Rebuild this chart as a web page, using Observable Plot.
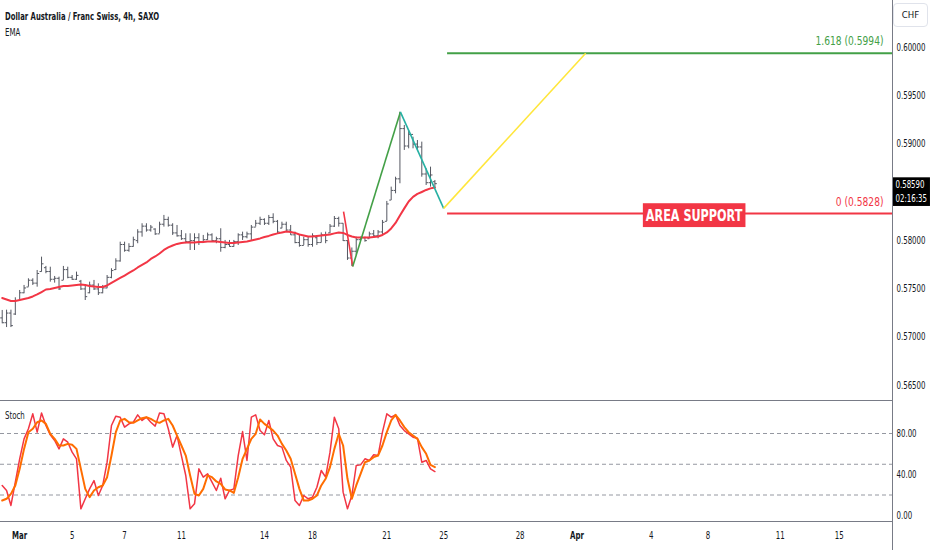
<!DOCTYPE html>
<html>
<head>
<meta charset="utf-8">
<script src="https://cdn.jsdelivr.net/npm/d3@7"></script>
<script src="https://cdn.jsdelivr.net/npm/@observablehq/plot@0.6"></script>
<style>
  html,body{margin:0;padding:0;background:#fff;}
  #chart{position:relative;width:932px;height:550px;overflow:hidden;background:#fff;
    font-family:"DejaVu Sans Condensed","DejaVu Sans",sans-serif;color:#131722;}
  #chart svg{position:absolute;left:0;}
  .legend{position:absolute;left:5px;font-size:10px;line-height:1;white-space:nowrap;z-index:2;
    transform:scaleX(0.78);transform-origin:0 0;}
  #title{top:12px;font-weight:bold;font-size:9.8px;}
  #ema{top:28px;}
  #stochLabel{top:411px;}
  #ccy{position:absolute;left:893px;top:3px;width:35px;height:24px;border:1px solid #e0e3eb;border-radius:4px;
    box-sizing:border-box;font-size:9.5px;text-align:center;line-height:22px;color:#131722;z-index:2;background:#fff;}
</style>
</head>
<body>
<div id="chart">
  <div id="title" class="legend">Dollar Australia / Franc Swiss, 4h, SAXO</div>
  <div id="ema" class="legend">EMA</div>
  <div id="stochLabel" class="legend">Stoch</div>
  <div id="ccy">CHF</div>
</div>
<script>
// ---------- data (4h bars, index 0 = Mar 1) ----------
const startIndex = -4;
const barOpen = [0.5720,0.5715,0.5725,0.5724,0.5738,0.5746,0.5752,0.5759,0.5756,0.5768,
0.5772,0.5768,0.5760,0.5761,0.5759,0.5770,0.5762,0.5760,0.5758,0.5750,
0.5746,0.5754,0.5750,0.5746,0.5751,0.5762,0.5770,0.5779,0.5796,0.5790,
0.5794,0.5800,0.5809,0.5815,0.5811,0.5812,0.5807,0.5817,0.5822,0.5816,
0.5808,0.5805,0.5802,0.5799,0.5800,0.5803,0.5798,0.5801,0.5806,0.5800,
0.5802,0.5793,0.5796,0.5794,0.5799,0.5806,0.5804,0.5807,0.5814,0.5818,
0.5822,0.5818,0.5824,0.5820,0.5813,0.5817,0.5811,0.5806,0.5798,0.5795,
0.5801,0.5796,0.5803,0.5798,0.5806,0.5808,0.5815,0.5823,0.5818,0.5800,
0.5782,0.5789,0.5801,0.5803,0.5802,0.5807,0.5805,0.5809,0.5820,0.5842,
0.5852,0.5864,0.5916,0.5898,0.5910,0.5900,0.5897,0.5869,0.5860,0.5861];
const barHigh = [0.57277,0.5728,0.5728,0.57408,0.57484,0.57536,0.57605,0.57605,0.57691,0.57829,
0.57733,0.57725,0.57629,0.57622,0.57733,0.57725,0.57639,0.57674,0.57588,0.57536,
0.5757,0.57588,0.57553,0.57536,0.57639,0.57709,0.57812,0.57984,0.57984,0.57968,
0.58036,0.58113,0.58175,0.58175,0.58157,0.58123,0.58191,0.58261,0.58243,0.58175,
0.58157,0.58105,0.58071,0.58071,0.58071,0.58071,0.58054,0.58078,0.58071,0.58036,
0.58123,0.58002,0.58002,0.58002,0.58071,0.58088,0.58088,0.58157,0.58209,0.58243,
0.58226,0.58261,0.58278,0.58209,0.58191,0.58191,0.58157,0.58088,0.58054,0.58036,
0.58036,0.58071,0.58036,0.5808,0.58088,0.58167,0.5825,0.58243,0.58175,0.58002,
0.57924,0.58036,0.58036,0.58036,0.58088,0.58105,0.58105,0.58209,0.58406,0.58554,
0.58657,0.5933,0.59193,0.59141,0.59071,0.59037,0.5902,0.58744,0.58761,0.58623];
const barLow = [0.57139,0.5710,0.5710,0.57225,0.5738,0.5745,0.57518,0.57536,0.57518,0.57674,
0.57657,0.5757,0.5756,0.57484,0.57588,0.57605,0.57588,0.57588,0.57484,0.5738,
0.5745,0.57484,0.57432,0.5745,0.57502,0.57605,0.57691,0.57777,0.5788,0.5788,
0.57932,0.57968,0.58036,0.58088,0.58088,0.58054,0.58071,0.5814,0.5814,0.58054,
0.58036,0.58002,0.57968,0.57898,0.57898,0.5795,0.57984,0.58002,0.57984,0.57968,
0.5788,0.57916,0.57932,0.57932,0.5795,0.58002,0.58019,0.58002,0.5814,0.58157,
0.58157,0.58157,0.58175,0.58071,0.58123,0.58088,0.58054,0.57968,0.57932,0.5795,
0.57932,0.57932,0.5795,0.57976,0.57968,0.58074,0.58136,0.5814,0.57991,0.57795,
0.57733,0.57847,0.58002,0.57984,0.58019,0.58036,0.58019,0.58054,0.58198,0.58416,
0.58485,0.58589,0.58934,0.58951,0.58951,0.58934,0.58657,0.58571,0.58554,0.58537];
const barClose = [0.5715,0.5725,0.5712,0.5738,0.5746,0.5751,0.5759,0.5756,0.5766,0.5776,
0.5768,0.5760,0.5761,0.5750,0.5770,0.5762,0.5760,0.5764,0.5750,0.5742,
0.5754,0.5750,0.5746,0.5751,0.5762,0.5769,0.5779,0.5796,0.5790,0.5794,
0.5801,0.5809,0.5815,0.5811,0.5814,0.5807,0.5817,0.5822,0.5816,0.5808,
0.5805,0.5802,0.5799,0.5800,0.5803,0.5798,0.5801,0.5806,0.5800,0.5802,
0.5793,0.5796,0.5794,0.5799,0.5806,0.5804,0.5807,0.5814,0.5818,0.5822,
0.5818,0.5824,0.5820,0.5809,0.5817,0.5811,0.5806,0.5798,0.5795,0.5801,
0.5796,0.5805,0.5798,0.5806,0.5800,0.5815,0.5823,0.5818,0.5800,0.5782,
0.5789,0.5801,0.5803,0.5800,0.5807,0.5805,0.5809,0.5819,0.5838,0.5852,
0.5864,0.5916,0.5898,0.5910,0.5900,0.5897,0.5869,0.5860,0.5868,0.5859];
const emaLine = [0.57406,0.57391,0.57375,0.57375,0.57386,0.57396,0.57406,0.57422,0.57443,0.57468,
0.57494,0.57499,0.5751,0.5752,0.57531,0.57531,0.57536,0.57541,0.57546,0.57541,
0.57531,0.57525,0.5752,0.5752,0.57536,0.57562,0.57588,0.57614,0.57639,0.57665,
0.57691,0.57722,0.57748,0.57774,0.5781,0.57836,0.57867,0.57904,0.5793,0.5795,
0.57966,0.57976,0.57981,0.57981,0.57981,0.57986,0.57986,0.57992,0.57992,0.57992,
0.57986,0.57981,0.57976,0.57976,0.57981,0.57986,0.57992,0.58002,0.58012,0.58023,
0.58038,0.58049,0.58064,0.58075,0.58085,0.58095,0.5809,0.5808,0.58064,0.58054,
0.58043,0.58043,0.58049,0.58054,0.58059,0.58064,0.58075,0.58085,0.5808,0.58059,
0.58043,0.58033,0.58033,0.58033,0.58033,0.58038,0.58043,0.58059,0.58085,0.58126,
0.58183,0.58261,0.58334,0.58406,0.58453,0.58484,0.58504,0.58525,0.58541,0.58551];
const stochK = [29.3,24.4,9.8,32.5,55.3,74.8,84.6,99.2,81.3,100,
87.8,78.7,73.2,65.0,74.8,71.5,61.8,55.3,6.5,16.3,
26.0,34.1,19.5,29.3,52.0,87.8,96.9,95.9,86.2,89.4,
91.0,98.2,92.7,95.9,91.0,87.2,100,99.2,84.6,66.7,
78.0,58.5,39.0,6.5,11.4,45.5,37.4,40.7,32.5,24.4,
36.4,16.3,24.4,26.0,58.5,81.9,53.7,95.9,98.2,82.9,
78.7,92.7,74.8,68.3,66.7,53.7,47.2,14.6,9.8,19.5,
16.3,17.9,27.6,43.9,37.4,61.8,95.9,84.6,22.8,6.5,
19.5,48.8,49.4,55.3,53.7,59.2,58.5,81.3,99.2,95.9,
98.2,87.8,82.9,79.7,76.4,75.4,52.0,53.7,45.5,42.9];
const stochD = [14.6,16.3,21.1,29.3,45.5,65.0,81.3,84.6,91.0,92.7,
89.4,79.7,74.8,68.3,68.3,69.9,69.0,65.0,45.5,26.0,
17.9,24.4,27.6,29.3,37.4,58.5,81.3,92.7,94.3,91.0,
90.4,92.7,94.9,95.9,94.3,91.7,90.4,92.7,94.3,87.8,
78.0,68.3,58.5,39.0,21.1,19.5,26.0,39.0,37.4,33.2,
30.9,25.4,24.4,22.1,37.4,55.3,65.0,74.8,79.7,93.7,
89.4,86.2,82.9,78.0,69.9,63.4,55.3,40.7,26.0,14.6,
14.6,16.3,19.5,29.3,35.8,47.2,65.0,79.7,68.3,35.8,
16.3,29.3,40.7,52.0,53.7,56.9,58.5,68.3,81.3,92.7,
98.2,92.7,86.2,81.3,78.0,74.8,66.7,60.2,49.4,47.2];

// 0.585 sits behind the last-price tag in the original, so it is not listed
const priceTicks = [0.565,0.570,0.575,0.580,0.590,0.595,0.600];
const stochTicks = [0,40,80];
const stochLevels = [20,50,80];
const timeLabels = ["Mar","5","7","11","14","18","21","25","28","Apr","4","8","11","15"];
const timeIdx = [0,12,24,37,56,67,84,97,114.5,127.5,144.5,157.5,174,187.5];

// drawing: X-A-B-C-D swing lines (bar index, price)
const patternIdx = [74.1,76.2,87.1,97.0,129.5];
const patternPrice = [0.5830,0.57733,0.59333,0.58334,0.5994];
const patternColors = ["#f23645","#43a047","#26b0a3","#ffe63b"];
// fib levels
const fibStartIdx = 97.9;
const fibPrice = [0.5994,0.5828];
const fibLabel = ["1.618 (0.5994)","0 (0.5828)"];
const fibColor = ["#43a047","#f23645"];
const supportLabel = "AREA SUPPORT";
const supportIdx = 154.3;
const lastPrice = 0.5859;
const lastTag = ["0.58590","02:16:35"];

// ---------- build ----------
const bars = barOpen.map((o,k)=>({i:startIndex+k,o,h:barHigh[k],l:barLow[k],c:barClose[k],ema:emaLine[k],sk:stochK[k],sd:stochD[k]}));
const segs = patternIdx.slice(1).map((x2,j)=>({x1:patternIdx[j],y1:patternPrice[j],x2,y2:patternPrice[j+1],color:patternColors[j]}));
const fibs = fibPrice.map((p,j)=>({p,label:fibLabel[j],color:fibColor[j]}));
const timeRows = timeLabels.map((label,j)=>({label,i:timeIdx[j],month:isNaN(+label)}));

const xDomain = [-4.39,199.7];
const yDomain = [0.563446,0.604867];
const sDomain = [-5.85,112.2];
const font = '"DejaVu Sans Condensed","DejaVu Sans",sans-serif';
const barColor = "#555862";
const lineGray = "#787b86";
const squeeze = 0.78;

const pricePlot = Plot.plot({
  width:932,height:400,marginTop:0,marginBottom:0,marginLeft:0,marginRight:40,
  style:{background:"none",fontFamily:font,fontSize:"10px",color:"#131722",overflow:"visible"},
  x:{domain:xDomain,axis:null},
  y:{domain:yDomain,axis:null},
  marks:[
    Plot.axisY(priceTicks,{anchor:"right",tickSize:0,tickPadding:4,tickFormat:d3.format(".5f"),color:"#131722",fontSize:10}),
    Plot.ruleY(fibs,{y:"p",x1:fibStartIdx,x2:xDomain[1],stroke:"color",strokeWidth:2}),
    Plot.ruleX(bars,{x:"i",y1:"l",y2:"h",stroke:barColor,strokeWidth:1}),
    Plot.link(bars,{x1:d=>d.i-0.45,x2:"i",y1:"o",y2:"o",stroke:barColor,strokeWidth:1}),
    Plot.link(bars,{x1:"i",x2:d=>d.i+0.45,y1:"c",y2:"c",stroke:barColor,strokeWidth:1}),
    Plot.line(bars,{x:"i",y:"ema",stroke:"#f23645",strokeWidth:2}),
    Plot.link(segs,{x1:"x1",y1:"y1",x2:"x2",y2:"y2",stroke:"color",strokeWidth:1.6}),
    Plot.text(fibs,{x:xDomain[1],y:"p",text:"label",fill:"color",textAnchor:"end",dx:-9,dy:-12,fontSize:13}),
    Plot.text([supportLabel],{x:supportIdx,y:fibPrice[1],text:d=>d,fill:"white",fontWeight:"bold",fontSize:16,dy:2}),
    Plot.text([lastTag.join("\n")],{x:xDomain[1],y:lastPrice,text:d=>d,textAnchor:"start",dx:3,dy:7,lineAnchor:"middle",lineHeight:1.35,fill:"white",fontSize:10}),
    Plot.ruleX([xDomain[1]],{stroke:lineGray}),
    Plot.ruleY([yDomain[0]],{stroke:lineGray})
  ]
});

const stochPlot = Plot.plot({
  width:932,height:150,marginTop:0,marginBottom:29,marginLeft:0,marginRight:40,
  style:{background:"none",fontFamily:font,fontSize:"10px",color:"#131722",overflow:"visible"},
  x:{domain:xDomain,axis:null},
  y:{domain:sDomain,axis:null},
  marks:[
    Plot.ruleY(stochLevels,{stroke:"#9598a1",strokeDasharray:"4,3"}),
    Plot.axisY(stochTicks,{anchor:"right",tickSize:0,tickPadding:4,tickFormat:d3.format(".2f"),color:"#131722",fontSize:10}),
    Plot.line(bars,{x:"i",y:"sk",stroke:"#f23645",strokeWidth:1.5}),
    Plot.line(bars,{x:"i",y:"sd",stroke:"#ff6d00",strokeWidth:2}),
    Plot.text(timeRows.filter(d=>d.month),{x:"i",text:"label",frameAnchor:"bottom",dy:17,fontWeight:"bold",fontSize:10,fill:"#131722"}),
    Plot.text(timeRows.filter(d=>!d.month),{x:"i",text:"label",frameAnchor:"bottom",dy:17,fontSize:10,fill:"#131722"}),
    Plot.ruleX([xDomain[1]],{stroke:lineGray,insetBottom:-29}),
    Plot.ruleY([sDomain[0]],{stroke:lineGray})
  ]
});

const chart = document.getElementById("chart");
pricePlot.style.top = "0px";
stochPlot.style.top = "400px";
chart.insertBefore(stochPlot, chart.firstChild);
chart.insertBefore(pricePlot, chart.firstChild);

// condensed look: narrow every svg text horizontally about its anchor
function condense(svg){
  svg.querySelectorAll("text").forEach(t=>{
    const x = +(t.getAttribute("x")||0);
    const tr = t.getAttribute("transform")||"";
    t.setAttribute("transform",`${tr} translate(${x},0) scale(${squeeze},1) translate(${-x},0)`);
  });
}
condense(pricePlot);
condense(stochPlot);

// filled label boxes behind chosen texts
function addBox(svg,match,fill,padX,padY){
  svg.querySelectorAll("text").forEach(t=>{
    if(!match(t.textContent)) return;
    const b = t.getBBox();
    const r = document.createElementNS("http://www.w3.org/2000/svg","rect");
    r.setAttribute("x",b.x-padX/squeeze);
    r.setAttribute("y",b.y-padY);
    r.setAttribute("width",b.width+2*padX/squeeze);
    r.setAttribute("height",b.height+2*padY);
    r.setAttribute("fill",fill);
    const tr = t.getAttribute("transform");
    if(tr) r.setAttribute("transform",tr);
    t.parentNode.insertBefore(r,t);
  });
}
addBox(pricePlot,s=>s===supportLabel,"#f23645",3,3);
addBox(pricePlot,s=>s.indexOf(lastTag[0])===0,"#000000",3,2);
</script>
</body>
</html>
